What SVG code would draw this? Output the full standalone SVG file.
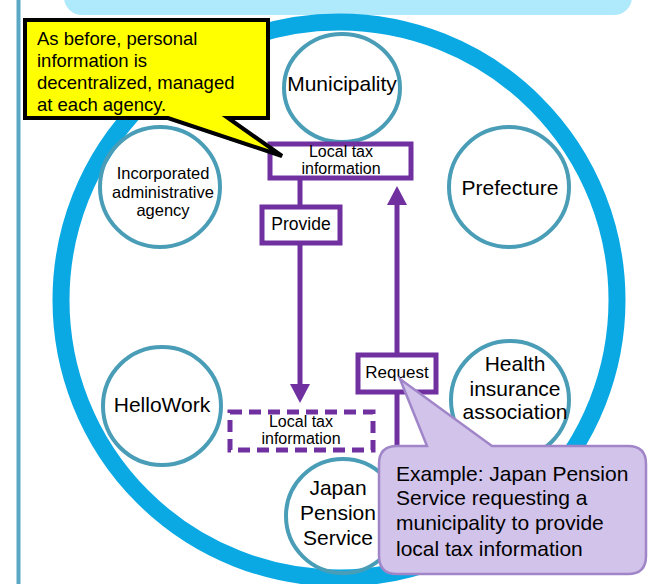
<svg xmlns="http://www.w3.org/2000/svg" width="648" height="584" viewBox="0 0 648 584">
<style>
text{font-family:"Liberation Sans",Arial,sans-serif;fill:#000}
.node{fill:none;stroke:#4a9db6;stroke-width:4}
.lbl{font-size:21px;text-anchor:middle}
.box{fill:#fff;stroke:#7030a0;stroke-width:5}
.boxt{font-size:16px;text-anchor:middle}
.conn{stroke:#7030a0;stroke-width:5;fill:none}
.head{fill:#7030a0}
</style>
<rect x="0" y="0" width="648" height="584" fill="#fff"/>
<rect x="64" y="-30" width="568" height="45" rx="18" fill="#aeeafc"/>
<line x1="18.5" y1="0" x2="18.5" y2="584" stroke="#5aa8c3" stroke-width="4"/>
<circle id="ring" cx="339" cy="300" r="278" fill="none" stroke="#0aa9e4" stroke-width="17"/>

<g id="municipality"><ellipse class="node" cx="342" cy="88" rx="58" ry="54"/><text class="lbl" x="342" y="91">Municipality</text></g>
<g id="prefecture"><circle class="node" cx="509" cy="187" r="60"/><text class="lbl" x="510" y="195">Prefecture</text></g>
<g id="incorporated"><circle class="node" cx="160" cy="187" r="60"/><text font-size="16.5" text-anchor="middle"><tspan x="163" y="179">Incorporated</tspan><tspan x="163" y="197.5">administrative</tspan><tspan x="163" y="216">agency</tspan></text></g>
<g id="hellowork"><circle class="node" cx="162" cy="406" r="59"/><text class="lbl" x="162" y="412">HelloWork</text></g>
<g id="health"><circle class="node" cx="510" cy="400" r="59"/><text class="lbl"><tspan x="515" y="371">Health</tspan><tspan x="515" y="396">insurance</tspan><tspan x="515" y="419">association</tspan></text></g>
<g id="pension"><circle class="node" cx="343" cy="516" r="57"/><text class="lbl"><tspan x="338" y="495">Japan</tspan><tspan x="338" y="520">Pension</tspan><tspan x="338" y="545">Service</tspan></text></g>

<g id="connectors">
<line class="conn" x1="300" y1="178" x2="300" y2="206"/>
<line class="conn" x1="300" y1="244" x2="300" y2="388"/>
<polygon class="head" points="290,384 310,384 300,403"/>
<line class="conn" x1="397" y1="470" x2="397" y2="200"/>
<polygon class="head" points="387,205 407,205 397,186"/>
</g>

<g id="local-tax-top"><rect class="box" x="270" y="144" width="141" height="34"/><text class="boxt"><tspan x="341" y="156.5">Local tax</tspan><tspan x="341" y="174">information</tspan></text></g>
<g id="provide"><rect class="box" x="262" y="207" width="78" height="36"/><text font-size="17.5" text-anchor="middle" x="301" y="230">Provide</text></g>
<g id="local-tax-dashed"><rect x="230" y="412" width="143" height="38" fill="#fff" stroke="#7030a0" stroke-width="5" stroke-dasharray="12 7"/><text class="boxt"><tspan x="301" y="427">Local tax</tspan><tspan x="301" y="444">information</tspan></text></g>
<g id="request"><rect class="box" x="358" y="355" width="78" height="37"/><text font-size="17" text-anchor="middle" x="397" y="378">Request</text></g>

<g id="note-yellow"><path d="M25 20 H268 V118 H228 L282 156 L168 118 H25 Z" fill="#ffff00" stroke="#000" stroke-width="4"/><text font-size="18.5"><tspan x="37" y="45">As before, personal</tspan><tspan x="37" y="67">information is</tspan><tspan x="37" y="89">decentralized, managed</tspan><tspan x="37" y="111">at each agency.</tspan></text></g>

<g id="note-example"><path d="M397 446 L427 446 L400 379 L492 446 L628 446 Q646 446 646 464 L646 556 Q646 574 628 574 L397 574 Q379 574 379 556 L379 464 Q379 446 397 446 Z" fill="#d2c3ea" stroke="#a086c8" stroke-width="2.5"/><text font-size="21"><tspan x="396" y="481">Example: Japan Pension</tspan><tspan x="396" y="505">Service requesting a</tspan><tspan x="396" y="530">municipality to provide</tspan><tspan x="396" y="556">local tax information</tspan></text></g>
</svg>
